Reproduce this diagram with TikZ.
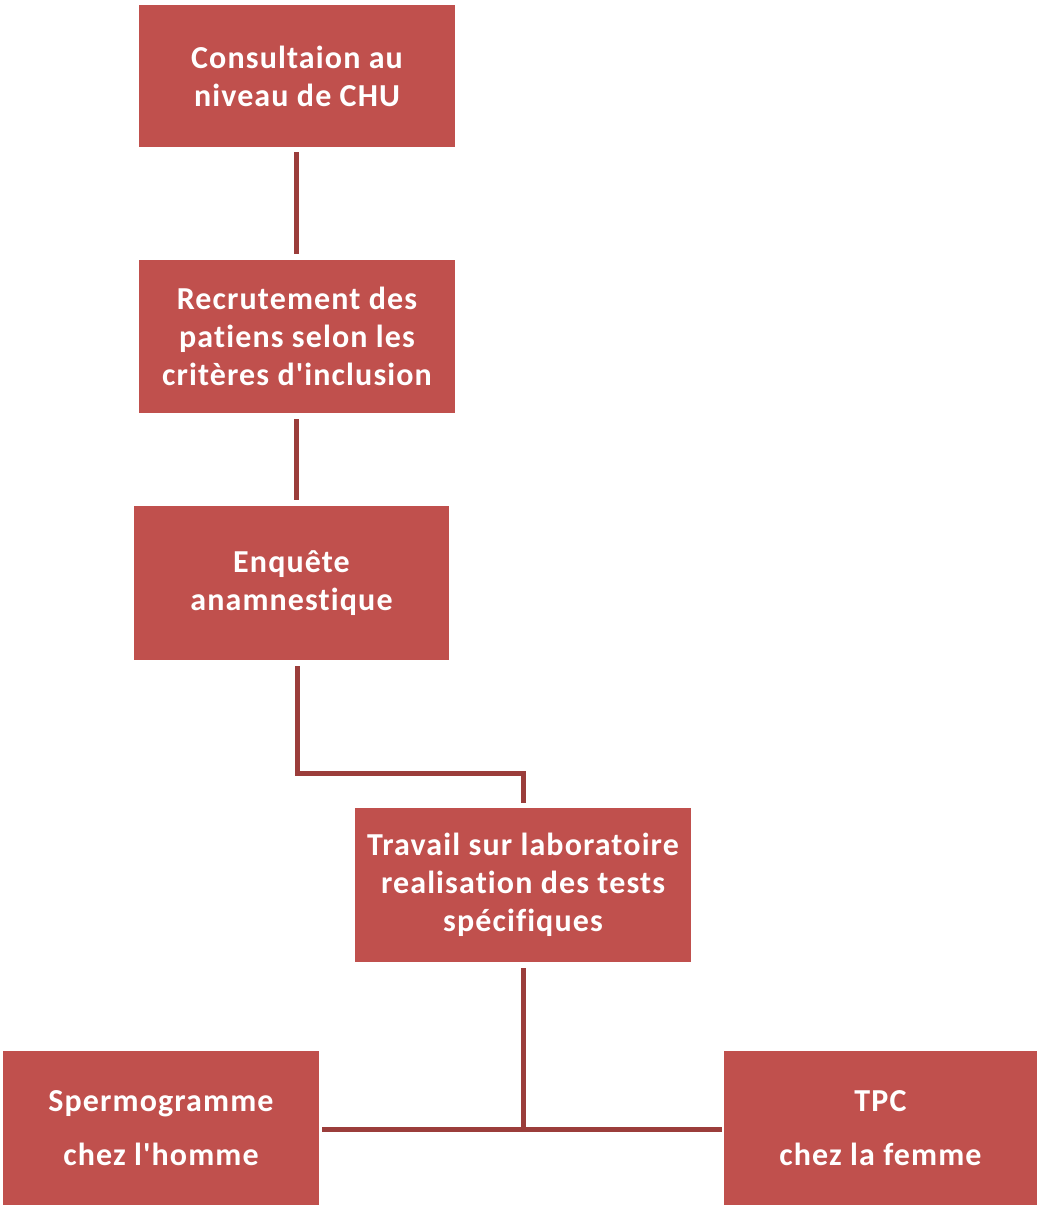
\documentclass[tikz,border=0pt]{standalone}
\usepackage{fontspec}
\setmainfont{Carlito}[Ligatures={TeXOff,NoCommon},LetterSpace=3.5]
\definecolor{boxred}{HTML}{C0504D}
\definecolor{linered}{HTML}{9B3D3B}
\begin{document}
\begin{tikzpicture}[x=1pt,y=-1pt,
  stepbox/.style={fill=boxred,draw=none,text=white,align=center,inner sep=0pt,
    font=\bfseries\fontsize{32}{38}\selectfont},
  wide/.style={font=\bfseries\fontsize{32}{54}\selectfont},
  link/.style={draw=linered,line width=5pt}]
\useasboundingbox (0,0) rectangle (1038,1206);
\node[stepbox,minimum width=316,minimum height=142] (b1) at (297,76) {Consultaion au\\niveau de CHU};
\node[stepbox,minimum width=316,minimum height=153] (b2) at (297,336.5) {Recrutement des\\patiens selon les\\critères d'inclusion};
\node[stepbox,minimum width=315,minimum height=154] (b3) at (291.5,583) {Enquête\\anamnestique};
\node[stepbox,minimum width=336,minimum height=154] (b4) at (523,885) {Travail sur laboratoire\\realisation des tests\\spécifiques};
\node[stepbox,wide,minimum width=316,minimum height=154] (b5) at (161,1128) {Spermogramme\\chez l'homme};
\node[stepbox,wide,minimum width=313,minimum height=154] (b6) at (880.5,1128) {TPC\\chez la femme};
\coordinate (j2) at (523,773);
\coordinate (j3) at (523,1129);
\draw[link,shorten <=5pt,shorten >=6pt] ([xshift=-1pt]b1.south) -- ([xshift=-1pt]b2.north);
\draw[link,shorten <=6pt,shorten >=6pt] ([xshift=-1pt]b2.south) -- ([xshift=4.5pt]b3.north);
\draw[link,shorten <=6pt,shorten >=5pt] ([xshift=5.5pt]b3.south) |- (j2) -- (b4.north);
\draw[link,shorten <=6pt] (b4.south) -- (j3);
\draw[link,shorten <=3pt,shorten >=2pt] (b5.east|-j3) -- (b6.west|-j3);
\end{tikzpicture}
\end{document}
